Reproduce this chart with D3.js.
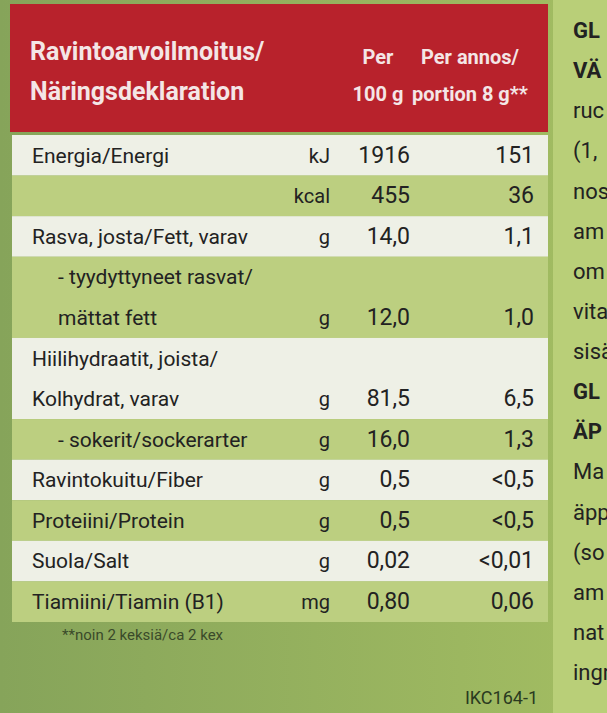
<!DOCTYPE html>
<html><head><meta charset="utf-8">
<script src="https://cdn.jsdelivr.net/npm/d3@7"></script>
<style>body{margin:0;background:#7f9f4c}svg{display:block}</style>
</head><body>
<svg id="c" width="607" height="713"></svg>
<script>
const labels=[["Energia/Energi"],[""],["Rasva, josta/Fett, varav"],["- tyydyttyneet rasvat/","mättat fett"],["Hiilihydraatit, joista/","Kolhydrat, varav"],["- sokerit/sockerarter"],["Ravintokuitu/Fiber"],["Proteiini/Protein"],["Suola/Salt"],["Tiamiini/Tiamin (B1)"]];
const units=["kJ","kcal","g","g","g","g","g","g","g","mg"];
const per100=["1916","455","14,0","12,0","81,5","16,0","0,5","0,5","0,02","0,80"];
const perPortion=["151","36","1,1","1,0","6,5","1,3","<0,5","<0,5","<0,01","0,06"];
const sideText=["GL","VÄ","ruc","(1,","nos","am","om","vita","sisä","GL","ÄP","Ma","äpp","(so","am","nat","ingr"];
const svg=d3.select("#c");
const F="Roboto, 'Liberation Sans', sans-serif";
// background
const bg=svg.append("defs").append("linearGradient").attr("id","bg").attr("x1",0).attr("x2",1);
bg.append("stop").attr("offset","0").attr("stop-color","#86a45a");
bg.append("stop").attr("offset","1").attr("stop-color","#a3bd62");
svg.append("rect").attr("width",607).attr("height",713).attr("fill","url(#bg)");
svg.append("rect").attr("x",553).attr("width",54).attr("height",713).attr("fill","#b9cf78");
// header
svg.append("rect").attr("x",10).attr("y",4).attr("width",538).attr("height",128).attr("fill","#b8222c");
const ht=[["Ravintoarvoilmoitus/",30,60,"start"],["Näringsdeklaration",30,100,"start"],["Per",378,64,"middle"],["100 g",378,101,"middle"],["Per annos/",470,64,"middle"],["portion 8 g**",470,101,"middle"]];
svg.selectAll(".h").data(ht).enter().append("text").attr("x",d=>d[1]).attr("y",d=>d[2]).attr("text-anchor",d=>d[3])
 .attr("font-family",F).attr("font-weight","bold").attr("font-size",(d,i)=>i<2?25:20).attr("fill","#f4e6e6").text(d=>d[0]);
// rows
const lineCounts=labels.map(l=>l.length);
const starts=d3.cumsum([0,...lineCounts]);
const y=d3.scaleLinear().domain([0,12]).range([135,622]);
const g=svg.append("g");
labels.forEach((lab,i)=>{
  const y0=y(starts[i]),y1=y(starts[i+1]);
  g.append("rect").attr("x",12).attr("y",y0).attr("width",536).attr("height",y1-y0).attr("fill",i%2?"#bccf80":"#eef0e6");
  const yb=y1-(y(1)-y(0))*0.32;
  lab.forEach((t,k)=>g.append("text").attr("x",i==3||i==5?58:32).attr("y",y(starts[i]+k)+(y(1)-y(0))*0.68)
    .attr("font-family",F).attr("font-size",21).attr("fill","#222").text(t));
  g.append("text").attr("x",330).attr("y",yb).attr("text-anchor","end").attr("font-family",F).attr("font-size",20).attr("fill","#222").text(units[i]);
  g.append("text").attr("x",410).attr("y",yb).attr("text-anchor","end").attr("font-family",F).attr("font-size",23).attr("fill","#222").text(per100[i]);
  g.append("text").attr("x",534).attr("y",yb).attr("text-anchor","end").attr("font-family",F).attr("font-size",23).attr("fill","#222").text(perPortion[i]);
});
svg.append("text").attr("x",62).attr("y",640).attr("font-family",F).attr("font-size",15).attr("fill","#3a4a2a").text("**noin 2 keksiä/ca 2 kex");
svg.append("text").attr("x",538).attr("y",704).attr("text-anchor","end").attr("font-family",F).attr("font-size",18).attr("fill","#2a3a20").text("IKC164-1");
const sy=d3.scaleLinear().domain([0,16]).range([38,680]);
svg.selectAll(".s").data(sideText).enter().append("text").attr("x",573).attr("y",(d,i)=>sy(i))
 .attr("font-family",F).attr("font-size",22).attr("font-weight",(d,i)=>[0,1,9,10].includes(i)?"bold":"normal").attr("fill","#222").text(d=>d);
</script>
</body></html>
